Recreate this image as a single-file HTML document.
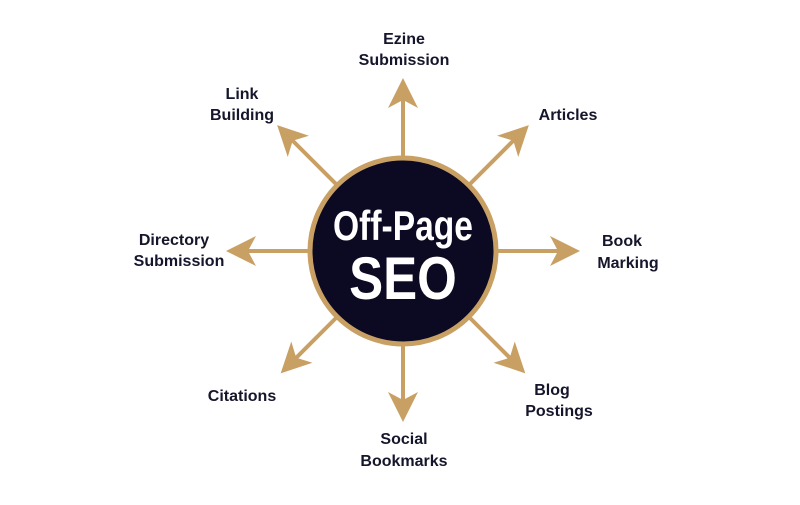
<!DOCTYPE html>
<html><head><style>body{margin:0;background:#fff}</style></head><body>
<svg width="800" height="500" viewBox="0 0 800 500" xmlns="http://www.w3.org/2000/svg">
<defs>
<g id="arr"><line x1="95" y1="0" x2="160" y2="0" stroke="#c9a064" stroke-width="4"/><path d="M178,0 L148,-15 L156,0 L148,15 Z" fill="#c9a064"/></g>
</defs>
<g transform="translate(403,251)">
<use href="#arr" transform="rotate(-90) translate(-5,0)"/>
<use href="#arr" transform="rotate(-45)"/>
<use href="#arr" transform="rotate(0) translate(-1,0)"/>
<use href="#arr" transform="rotate(45) translate(-5,0)"/>
<use href="#arr" transform="rotate(90) translate(-7,0)"/>
<use href="#arr" transform="rotate(135) translate(-5,0)"/>
<use href="#arr" transform="rotate(180) translate(-1,0)"/>
<use href="#arr" transform="rotate(225)"/>
<circle r="93" fill="#0b0a22" stroke="#c9a064" stroke-width="5"/>
</g>
<g font-family="Liberation Sans, sans-serif" font-weight="bold" fill="#fff" text-anchor="middle">
<text x="403" y="240" font-size="42" transform="translate(403,0) scale(0.8,1) translate(-403,0)">Off-Page</text>
<text x="403" y="299" font-size="60" transform="translate(403,0) scale(0.85,1) translate(-403,0)">SEO</text>
</g>
<g font-family="Liberation Sans, sans-serif" font-weight="bold" font-size="16" fill="#15152b" text-anchor="middle">
<text x="404" y="44">Ezine</text><text x="404" y="65">Submission</text>
<text x="242" y="99">Link</text><text x="242" y="120">Building</text>
<text x="568" y="120">Articles</text>
<text x="174" y="245">Directory</text><text x="179" y="266">Submission</text>
<text x="622" y="246">Book</text><text x="628" y="268">Marking</text>
<text x="242" y="401">Citations</text>
<text x="552" y="395">Blog</text><text x="559" y="416">Postings</text>
<text x="404" y="444">Social</text><text x="404" y="466">Bookmarks</text>
</g>
</svg>
</body></html>
